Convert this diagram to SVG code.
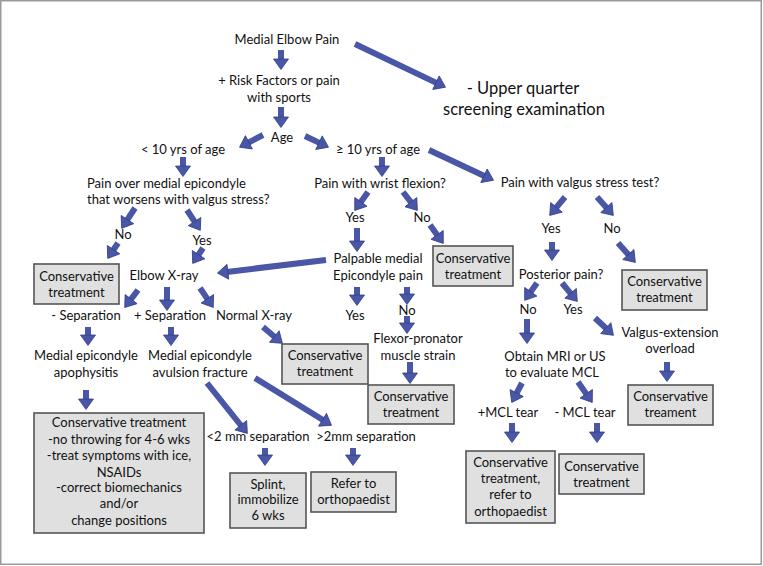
<svg xmlns="http://www.w3.org/2000/svg" width="763" height="566" viewBox="0 0 763 566">
<style>
text{font-family:Lato,"Open Sans","Liberation Sans",sans-serif;font-size:13px;fill:#111;text-anchor:middle}
.big{font-size:16.5px}
.st{text-anchor:start}
.box{fill:#e0e0e0;stroke:#555;stroke-width:1.6}
.arr{fill:none;stroke:#4a56a6;stroke-width:6;marker-end:url(#ah)}
</style>
<defs>
<marker id="ah" markerUnits="userSpaceOnUse" markerWidth="12" markerHeight="16" refX="1" refY="8" orient="auto" overflow="visible">
<path d="M0,0.5 L10.5,8 L0,15.5 Z" fill="#4a56a6" stroke="#34408c" stroke-width="0.8"/>
</marker>
</defs>
<rect x="0.75" y="0.75" width="760.5" height="563.5" fill="#fff" stroke="#9a9a9a" stroke-width="1.5"/>

<g id="connectors">
<path class="arr" d="M281,50 L281,60"/>
<path class="arr" d="M281,107 L281,118"/>
<path class="arr" d="M183,157 L183,167"/>
<path class="arr" d="M382,157 L382,167"/>
<path class="arr" d="M167,287 L167,301"/>
<path class="arr" d="M88,327 L88,336"/>
<path class="arr" d="M171,327 L171,336"/>
<path class="arr" d="M357,228 L357,242"/>
<path class="arr" d="M357,287 L357,296"/>
<path class="arr" d="M407,287 L407,295"/>
<path class="arr" d="M407,316 L407,324"/>
<path class="arr" d="M410,362 L410,374"/>
<path class="arr" d="M86,390 L86,400"/>
<path class="arr" d="M265,448 L265,456"/>
<path class="arr" d="M353,448 L353,456"/>
<path class="arr" d="M552,242 L552,251"/>
<path class="arr" d="M527,319 L527,334"/>
<path class="arr" d="M667,362 L667,372"/>
<path class="arr" d="M512,423 L512,433"/>
<path class="arr" d="M597,423 L597,433"/>
<path class="arr" d="M355,44 L436.9,83.1"/>
<path class="arr" d="M263,135 L248,142.8"/>
<path class="arr" d="M305,136 L319.9,143.1"/>
<path class="arr" d="M429,150 L484.9,176.2"/>
<path class="arr" d="M135,208 L126.9,220.4"/>
<path class="arr" d="M118,243 L113,250.5"/>
<path class="arr" d="M187,210 L195.1,222.4"/>
<path class="arr" d="M203,248 L198,255.5"/>
<path class="arr" d="M138,290 L130.5,299.9"/>
<path class="arr" d="M200,288 L207.9,299.6"/>
<path class="arr" d="M263,327 L275.1,337.2"/>
<path class="arr" d="M207,383 L241.4,426"/>
<path class="arr" d="M255,378 L323.4,420.3"/>
<path class="arr" d="M368,192 L360.3,202.7"/>
<path class="arr" d="M403,192 L411.5,202.9"/>
<path class="arr" d="M430,225 L437.7,235.7"/>
<path class="arr" d="M326,260 L226.9,271.9"/>
<path class="arr" d="M565,197 L555.8,208.1"/>
<path class="arr" d="M597,197 L607,208.3"/>
<path class="arr" d="M618,243 L629,255.3"/>
<path class="arr" d="M537,283 L530.2,292.6"/>
<path class="arr" d="M562,283 L571.2,294.1"/>
<path class="arr" d="M595,318 L606.5,328.8"/>
<path class="arr" d="M522,383 L516.2,394"/>
<path class="arr" d="M578,382 L586.8,394.6"/>
</g>

<g id="n-medial"><text x="287" y="44">Medial Elbow Pain</text></g>
<g id="n-upper"><text class="big" x="523" y="94">-  Upper quarter</text><text class="big" x="524" y="115">screening examination</text></g>
<g id="n-risk"><text x="279" y="85">+ Risk Factors or pain</text><text x="279" y="102">with sports</text></g>
<g id="n-age"><text x="282" y="142">Age</text></g>
<g id="n-lt10"><text x="183" y="154">&lt; 10 yrs of age</text></g>
<g id="n-ge10"><text x="378" y="154">≥ 10 yrs of age</text></g>
<g id="n-painover"><text class="st" x="87" y="188">Pain over medial epicondyle</text><text class="st" x="87" y="204">that worsens with valgus stress?</text></g>
<g id="n-no1"><text x="123" y="239">No</text></g>
<g id="n-yes1"><text x="202" y="245">Yes</text></g>
<g id="n-cons1"><rect class="box" x="34" y="264" width="85" height="40"/><text x="76.5" y="281">Conservative</text><text x="76.5" y="297">treatment</text></g>
<g id="n-xray"><text x="164" y="280">Elbow X-ray</text></g>
<g id="n-negsep"><text x="86" y="320">- Separation</text></g>
<g id="n-possep"><text x="170" y="320">+ Separation</text></g>
<g id="n-normal"><text x="254" y="320">Normal  X-ray</text></g>
<g id="n-apo"><text x="86" y="360">Medial epicondyle</text><text x="86" y="377">apophysitis</text></g>
<g id="n-avul"><text x="200" y="360">Medial epicondyle</text><text x="200" y="377">avulsion fracture</text></g>
<g id="n-cons3"><rect class="box" x="282" y="344" width="86" height="40"/><text x="325" y="360">Conservative</text><text x="325" y="376">treatment</text></g>
<g id="n-bigbox"><rect class="box" x="34" y="413" width="170" height="120"/>
<text x="119" y="427">Conservative treatment</text>
<text x="119" y="444">-no throwing  for 4-6 wks</text>
<text x="119" y="460">-treat symptoms with ice,</text>
<text x="119" y="477">NSAIDs</text>
<text x="119" y="492">-correct biomechanics</text>
<text x="119" y="508">and/or</text>
<text x="119" y="525">change positions</text></g>
<g id="n-lt2"><text x="258" y="441">&lt;2 mm separation</text></g>
<g id="n-gt2"><text x="366" y="441">&gt;2mm separation</text></g>
<g id="n-splint"><rect class="box" x="230" y="473" width="76" height="55"/><text x="268" y="489">Splint,</text><text x="268" y="504">immobilize</text><text x="268" y="520">6 wks</text></g>
<g id="n-refer"><rect class="box" x="311" y="472" width="85" height="40"/><text x="353.5" y="488">Refer to</text><text x="353.5" y="504">orthopaedist</text></g>
<g id="n-wrist"><text x="380" y="188">Pain with wrist flexion?</text></g>
<g id="n-yes2"><text x="355" y="222">Yes</text></g>
<g id="n-no2"><text x="422" y="222">No</text></g>
<g id="n-cons2"><rect class="box" x="433" y="246" width="80" height="40"/><text x="473" y="263">Conservative</text><text x="473" y="279">treatment</text></g>
<g id="n-palp"><text x="378" y="263">Palpable medial</text><text x="378" y="280">Epicondyle pain</text></g>
<g id="n-yes3"><text x="355" y="320">Yes</text></g>
<g id="n-no3"><text x="407" y="315">No</text></g>
<g id="n-flexor"><text x="418" y="343">Flexor-pronator</text><text x="418" y="360">muscle strain</text></g>
<g id="n-cons4"><rect class="box" x="368" y="385" width="86" height="39"/><text x="411" y="401">Conservative</text><text x="411" y="417">treatment</text></g>
<g id="n-valgus"><text x="580" y="187">Pain with valgus stress test?</text></g>
<g id="n-yes4"><text x="551" y="233">Yes</text></g>
<g id="n-no4"><text x="612" y="233">No</text></g>
<g id="n-cons5"><rect class="box" x="622" y="270" width="85" height="40"/><text x="664.5" y="286">Conservative</text><text x="664.5" y="302">treatment</text></g>
<g id="n-post"><text x="561" y="279">Posterior pain?</text></g>
<g id="n-no5"><text x="528" y="314">No</text></g>
<g id="n-yes5"><text x="573" y="314">Yes</text></g>
<g id="n-vext"><text x="670" y="337">Valgus-extension</text><text x="670" y="353">overload</text></g>
<g id="n-mri"><text x="555" y="361">Obtain MRI or US</text><text x="552" y="377">to evaluate MCL</text></g>
<g id="n-cons6"><rect class="box" x="628" y="385" width="85" height="40"/><text x="670.5" y="401">Conservative</text><text x="670.5" y="417">treament</text></g>
<g id="n-pmcl"><text x="508" y="417">+MCL tear</text></g>
<g id="n-nmcl"><text x="585" y="417">- MCL tear</text></g>
<g id="n-cons7"><rect class="box" x="466" y="451" width="89" height="72"/><text x="510.5" y="467">Conservative</text><text x="510.5" y="483">treatment,</text><text x="510.5" y="499">refer to</text><text x="510.5" y="516">orthopaedist</text></g>
<g id="n-cons8"><rect class="box" x="559" y="454" width="85" height="40"/><text x="601.5" y="471">Conservative</text><text x="601.5" y="487">treatment</text></g>
</svg>
